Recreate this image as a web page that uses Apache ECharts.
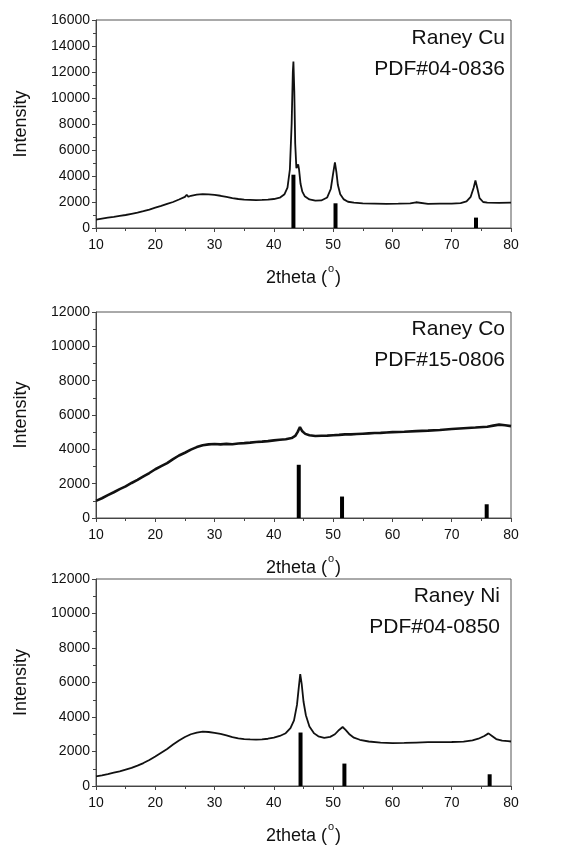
<!DOCTYPE html>
<html>
<head>
<meta charset="utf-8">
<script src="https://cdn.jsdelivr.net/npm/echarts@6/dist/echarts.min.js"></script>
<style>
  html, body { margin: 0; padding: 0; background: #fff; }
  #chart { width: 566px; height: 846px; }
</style>
</head>
<body>
<div id="chart"></div>
<script>
// panel labels
const sampleNames = ['Raney Cu', 'Raney Co', 'Raney Ni'];
const pdfCards = ['PDF#04-0836', 'PDF#15-0806', 'PDF#04-0850'];
const yMaxes = [16000, 12000, 12000];
const xTicks = [10, 20, 30, 40, 50, 60, 70, 80];

// measured scans, [2theta, intensity]
const cuScan = [
  [10,650],[11,720],[12,790],[13,860],[14,935],[15,1000],[16,1090],[17,1180],[18,1290],[19,1420],
  [20,1560],[21,1700],[22,1850],[23,2000],[24,2190],[25,2390],[25.3,2560],[25.6,2400],[26,2480],
  [27,2570],[28,2610],[29,2590],[30,2540],[31,2480],[32,2390],[33,2300],[34,2230],[35,2190],
  [36,2170],[37,2150],[38,2160],[39,2190],[40,2230],[41,2330],[41.8,2600],[42.3,3100],[42.7,4500],
  [43.0,8000],[43.2,12000],[43.3,12800],[43.45,10500],[43.6,6500],[43.8,4600],[44.0,4700],
  [44.1,4900],[44.25,4500],[44.5,3400],[44.8,2800],[45.2,2450],[46,2200],[47,2100],[48,2120],
  [49,2350],[49.6,3000],[50.0,4200],[50.3,5050],[50.55,4300],[50.8,3300],[51.2,2600],[51.8,2200],
  [52.5,2020],[53.5,1950],[55,1900],[57,1880],[59,1860],[61,1870],[63,1890],[64,1980],[64.3,1900],
  [66,1860],[68,1870],[70,1880],[71.5,1920],[72.5,2050],[73.2,2400],[73.7,3100],[74.0,3650],
  [74.3,3100],[74.7,2300],[75.3,2000],[76,1950],[78,1940],[80,1950]
];
const coScan = [
  [10,1000],[11,1150],[12,1330],[13,1500],[14,1680],[15,1840],[16,2040],[17,2220],[18,2420],
  [19,2620],[20,2840],[21,3020],[22,3200],[23,3430],[24,3640],[25,3800],[26,3980],[27,4130],
  [28,4240],[29,4290],[30,4310],[31,4290],[32,4320],[33,4300],[34,4340],[35,4360],[36,4390],
  [37,4430],[38,4450],[39,4480],[40,4520],[41,4560],[42,4590],[43,4660],[43.6,4780],[44.0,5000],
  [44.4,5300],[44.8,5050],[45.3,4900],[46,4820],[47,4780],[48,4790],[49,4800],[50,4820],[51,4840],
  [52,4870],[53,4870],[54,4890],[55,4910],[56,4930],[57,4950],[58,4960],[59,4980],[60,5000],
  [62,5020],[64,5060],[66,5090],[68,5130],[70,5180],[72,5230],[74,5270],[76,5320],[77,5380],
  [78,5440],[79,5400],[80,5350]
];
const niScan = [
  [10,560],[11,620],[12,690],[13,770],[14,850],[15,950],[16,1050],[17,1180],[18,1330],[19,1510],
  [20,1710],[21,1930],[22,2150],[23,2400],[24,2640],[25,2840],[26,3000],[27,3100],[28,3150],
  [29,3130],[30,3080],[31,3020],[32,2930],[33,2830],[34,2760],[35,2720],[36,2700],[37,2690],
  [38,2700],[39,2740],[40,2800],[41,2900],[42,3060],[42.8,3350],[43.4,3800],[43.9,4700],
  [44.2,5700],[44.45,6480],[44.7,5900],[45.0,4900],[45.4,4100],[46,3450],[46.8,3050],[47.5,2880],
  [48.5,2790],[49.5,2850],[50.3,3000],[51,3250],[51.6,3420],[52.1,3250],[52.8,2980],[53.5,2800],
  [54.5,2680],[56,2580],[58,2520],[60,2490],[62,2500],[64,2520],[66,2540],[68,2540],[70,2550],
  [72,2570],[73.5,2640],[74.5,2740],[75.5,2900],[76.2,3050],[76.8,2900],[77.5,2720],[78.5,2630],
  [79.5,2600],[80,2580]
];

// standard card reflections, [2theta, intensity]
const cuCard = [[43.3,4100],[50.4,1900],[74.1,800]];
const coCard = [[44.2,3100],[51.5,1250],[75.9,800]];
const niCard = [[44.5,3100],[51.9,1300],[76.4,680]];

const scans = [cuScan, coScan, niScan];
const cards = [cuCard, coCard, niCard];

const chart = echarts.init(document.getElementById('chart'));
const font = 'Liberation Sans, Arial, sans-serif';
const grids = [
  { left: 96, right: 55, top: 20, height: 208 },
  { left: 96, right: 55, top: 312, height: 206 },
  { left: 96, right: 55, top: 579, height: 207 }
];
const lineWidths = [1.8, 2.6, 1.8];
const labelRight = [61, 61, 66];
const labelTop = [8, 7, 7];

const xAxes = [], yAxes = [], series = [], graphics = [];
grids.forEach((g, i) => {
  g.show = true;
  g.borderColor = '#555';
  g.borderWidth = 1;
  g.outerBoundsMode = 'none';
  xAxes.push({
    type: 'value', gridIndex: i, min: xTicks[0], max: xTicks[xTicks.length - 1], interval: 10,
    name: '{t|2theta (}{sup|o}{t|)}', nameLocation: 'middle', nameGap: 35,
    nameTextStyle: {
      fontFamily: font, fontSize: 18, color: '#111',
      rich: {
        t: { fontFamily: font, fontSize: 18, color: '#111', lineHeight: 24, verticalAlign: 'bottom' },
        sup: { fontFamily: font, fontSize: 11, color: '#111', lineHeight: 24, verticalAlign: 'top', padding: [0, 1, 0, 1] }
      }
    },
    axisLine: { lineStyle: { color: '#444', width: 1 } },
    axisTick: { length: 4, lineStyle: { color: '#444' } },
    minorTick: { show: true, splitNumber: 2, length: 3, lineStyle: { color: '#444' } },
    splitLine: { show: false },
    axisLabel: { fontFamily: font, fontSize: 14, color: '#111', margin: 10 }
  });
  yAxes.push({
    type: 'value', gridIndex: i, min: 0, max: yMaxes[i], interval: 2000,
    name: 'Intensity', nameLocation: 'middle', nameGap: 66,
    nameTextStyle: { fontFamily: font, fontSize: 18, color: '#111' },
    axisLine: { show: true, lineStyle: { color: '#444', width: 1 } },
    axisTick: { show: true, length: 4, lineStyle: { color: '#444' } },
    minorTick: { show: true, splitNumber: 2, length: 3, lineStyle: { color: '#444' } },
    splitLine: { show: false },
    axisLabel: { fontFamily: font, fontSize: 14, color: '#111', margin: 6, formatter: v => String(v) }
  });
  series.push({
    type: 'line', xAxisIndex: i, yAxisIndex: i, data: scans[i],
    showSymbol: false, lineStyle: { color: '#111', width: lineWidths[i] }, z: 3
  });
  series.push({
    type: 'bar', xAxisIndex: i, yAxisIndex: i, data: cards[i],
    barWidth: 4, itemStyle: { color: '#000' }, z: 4
  });
  [sampleNames[i], pdfCards[i]].forEach((t, k) => {
    graphics.push({
      type: 'text', right: labelRight[i], top: g.top + labelTop[i] + k * 31,
      style: { text: t, fontFamily: font, fontSize: 21, fill: '#111' }
    });
  });
});

chart.setOption({
  animation: false,
  backgroundColor: '#fff',
  grid: grids,
  xAxis: xAxes,
  yAxis: yAxes,
  series: series,
  graphic: graphics
});
</script>
</body>
</html>
